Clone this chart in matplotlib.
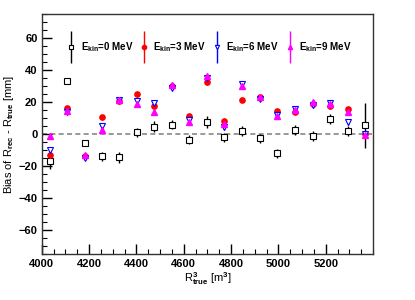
import numpy as np
import matplotlib
matplotlib.use('Agg')
import matplotlib.pyplot as plt
from matplotlib.container import ErrorbarContainer
from matplotlib.legend_handler import HandlerErrorbar

plt.rcParams['font.family'] = 'Liberation Sans'
plt.rcParams['font.weight'] = 'bold'
plt.rcParams['mathtext.fontset'] = 'custom'
plt.rcParams['mathtext.bf'] = 'Liberation Sans:bold'
plt.rcParams['mathtext.rm'] = 'Liberation Sans:bold'

# R_true^3 bins [m^3]
r3 = [4036, 4108, 4181, 4254, 4328, 4402, 4476, 4550, 4624, 4698,
      4772, 4847, 4921, 4995, 5070, 5145, 5220, 5292, 5366]

# bias [mm] for each kinetic energy
bias_0 = [-16.4, 33.4, -5.4, -13.7, -14.4, 1.3, 4.8, 6.1, -3.3, 7.9,
          -1.9, 2.1, -2.5, -11.9, 2.9, -1.0, 9.6, 2.3, 5.6]
err_0 = [5.0, 2.0, 2.0, 3.0, 3.5, 2.8, 3.5, 3.0, 3.0, 3.6,
         3.0, 3.0, 3.0, 3.0, 3.0, 3.0, 3.0, 3.0, 13.9]
bias_3 = [-12.7, 16.5, -13.5, 10.6, 20.6, 25.0, 17.5, 30.4, 11.2, 32.5,
          8.1, 21.7, 23.1, 14.4, 14.0, 19.0, 17.5, 15.9, 0.0]
bias_6 = [-9.6, 14.2, -14.5, 5.0, 21.7, 20.6, 19.6, 29.0, 9.2, 35.2,
          4.4, 31.5, 22.3, 12.3, 15.9, 18.1, 19.6, 7.5, 0.4]
bias_9 = [-0.8, 14.8, -12.9, 2.9, 21.7, 19.2, 13.7, 31.0, 7.5, 36.3,
          6.5, 30.0, 23.1, 11.2, 15.4, 20.0, 19.0, 13.7, -0.6]
err_c = 1.5

labels = [r'E$_{\mathbf{kin}}$=0 MeV', r'E$_{\mathbf{kin}}$=3 MeV',
          r'E$_{\mathbf{kin}}$=6 MeV', r'E$_{\mathbf{kin}}$=9 MeV']

fig = plt.figure(figsize=(4.15, 3.0), dpi=100)
ax = fig.add_axes([0.1005, 0.152, 0.7985, 0.8])

ax.axhline(0, color='#888888', ls=(0, (3, 2)), lw=1.2, zorder=1)

ms = 3.8
h0 = ax.errorbar(r3, bias_0, yerr=err_0, fmt='s', color='black', mfc='white',
                 mec='black', ms=ms, mew=0.8, elinewidth=1.0, label=labels[0])
h1 = ax.errorbar(r3, bias_3, yerr=err_c, fmt='o', color='red', ms=ms,
                 elinewidth=1.0, label=labels[1])
h2 = ax.errorbar(r3, bias_6, yerr=err_c, fmt='v', color='blue', mfc='white',
                 mec='blue', ms=ms, mew=0.8, elinewidth=1.0, label=labels[2])
h3 = ax.errorbar(r3, bias_9, yerr=err_c, fmt='^', color='magenta', ms=ms,
                 elinewidth=1.0, label=labels[3])

ax.set_xlim(4000, 5400)
ax.set_ylim(-75, 75)
ax.set_xticks(np.arange(4000, 5201, 200))
ax.set_xticks(np.arange(4000, 5401, 50), minor=True)
ax.set_yticks(np.arange(-60, 61, 20))
ax.set_yticks(np.arange(-75, 76, 5), minor=True)
ax.tick_params(which='both', direction='in', labelsize=8, top=False, right=False)
ax.tick_params(which='major', length=7, width=1.0)
ax.tick_params(which='minor', length=3.5, width=0.8)
ax.tick_params(axis='x', pad=3)
ax.tick_params(axis='y', pad=3)
for s in ax.spines.values():
    s.set_color('#333333')
    s.set_linewidth(1.0)

ax.set_xlabel(r'R$^{\mathbf{3}}_{\mathbf{true}}$ [m$^{\mathbf{3}}$]', fontsize=8, labelpad=1)
ax.set_ylabel(r'Bias of R$_{\mathbf{rec}}$ - R$_{\mathbf{true}}$ [mm]', fontsize=8)
ax.yaxis.set_label_coords(-0.078, 0.5)

ax.legend(handles=[h0, h1, h2, h3], ncol=4, loc='center left',
          bbox_to_anchor=(0.076, 0.862), frameon=False, fontsize=7,
          borderpad=0, borderaxespad=0, handlelength=0.8, handletextpad=0.6,
          columnspacing=0.7, markerscale=0.8,
          handler_map={ErrorbarContainer: HandlerErrorbar(yerr_size=1.65)})

fig.savefig('out.png', dpi=100)
